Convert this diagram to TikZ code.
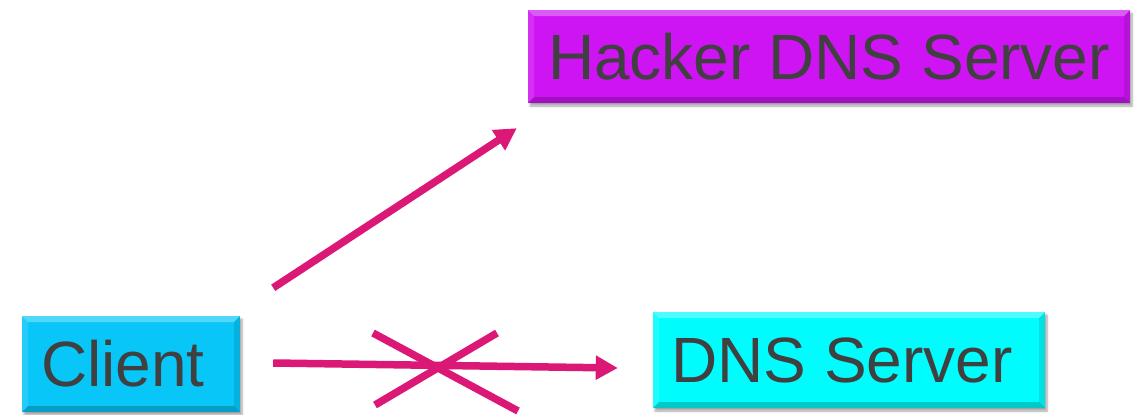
\documentclass[tikz,border=0pt]{standalone}
\usepackage{fontspec}
\setmainfont{Liberation Sans}
\usetikzlibrary{arrows.meta,shadows.blur}

\definecolor{txtgray}{RGB}{64,64,64}
\definecolor{hackerfill}{RGB}{206,20,242}
\definecolor{clientfill}{RGB}{8,198,248}
\definecolor{dnsfill}{RGB}{0,252,252}
\definecolor{arrowpink}{RGB}{220,24,118}

\newcommand{\padright}[1]{\rule{#1}{0pt}}

\tikzset{
  bevel/.style={
    path picture={
      \coordinate (nw) at (path picture bounding box.north west);
      \coordinate (ne) at (path picture bounding box.north east);
      \coordinate (sw) at (path picture bounding box.south west);
      \coordinate (se) at (path picture bounding box.south east);
      \fill[white,opacity=0.3] (nw) -- (ne) -- ([shift={(-6,6)}]ne) -- ([shift={(6,6)}]nw) -- cycle;
      \fill[black,opacity=0.2] (sw) -- (se) -- ([shift={(-6,-6)}]se) -- ([shift={(6,-6)}]sw) -- cycle;
      \fill[white,opacity=0.12] (nw) -- ([shift={(6,6)}]nw) -- ([shift={(6,-6)}]sw) -- (sw) -- cycle;
      \fill[black,opacity=0.1] (ne) -- ([shift={(-6,6)}]ne) -- ([shift={(-6,-6)}]se) -- (se) -- cycle;
    }
  },
  box/.style={
    draw=none, inner sep=0pt, text=txtgray,
    font=\fontsize{64}{70}\selectfont,
    blur shadow={shadow xshift=2pt, shadow yshift=-3pt, shadow blur steps=6, shadow opacity=35},
    bevel
  },
  flow/.style={draw=arrowpink, line width=7.5pt, -{Triangle[length=22pt,width=23pt]}},
  strike/.style={draw=arrowpink, line width=7.5pt}
}

\begin{document}
\begin{tikzpicture}[x=1pt,y=-1pt]
  \useasboundingbox (0,0) rectangle (1141,415);

  % the three machines (labels sit slightly left of centre)
  \node[box, fill=hackerfill, minimum width=602pt, minimum height=93pt] (hacker) at (829,56.5) {Hacker DNS Server};
  \node[box, fill=dnsfill, minimum width=392pt, minimum height=96pt] (dns) at (849,360) {DNS Server\padright{14pt}};
  \node[box, fill=clientfill, minimum width=218pt, minimum height=96pt] (client) at (131,364) {Client\padright{16pt}};

  % redirected query goes to the attacker's server
  \draw[flow] ([shift={(33,-28)}]client.north east) -- ([shift={(-11,25)}]hacker.south west);

  % legitimate query, blocked
  \draw[flow] ([shift={(33,-1)}]client.east) -- ([shift={(-35,8)}]dns.west);

  % cross over the blocked path
  \coordinate (xa) at (373,333);
  \coordinate (xb) at (518,411);
  \coordinate (xc) at (375,405);
  \coordinate (xd) at (497,333);
  \draw[strike] (xa) -- (xb);
  \draw[strike] (xc) -- (xd);
\end{tikzpicture}
\end{document}
